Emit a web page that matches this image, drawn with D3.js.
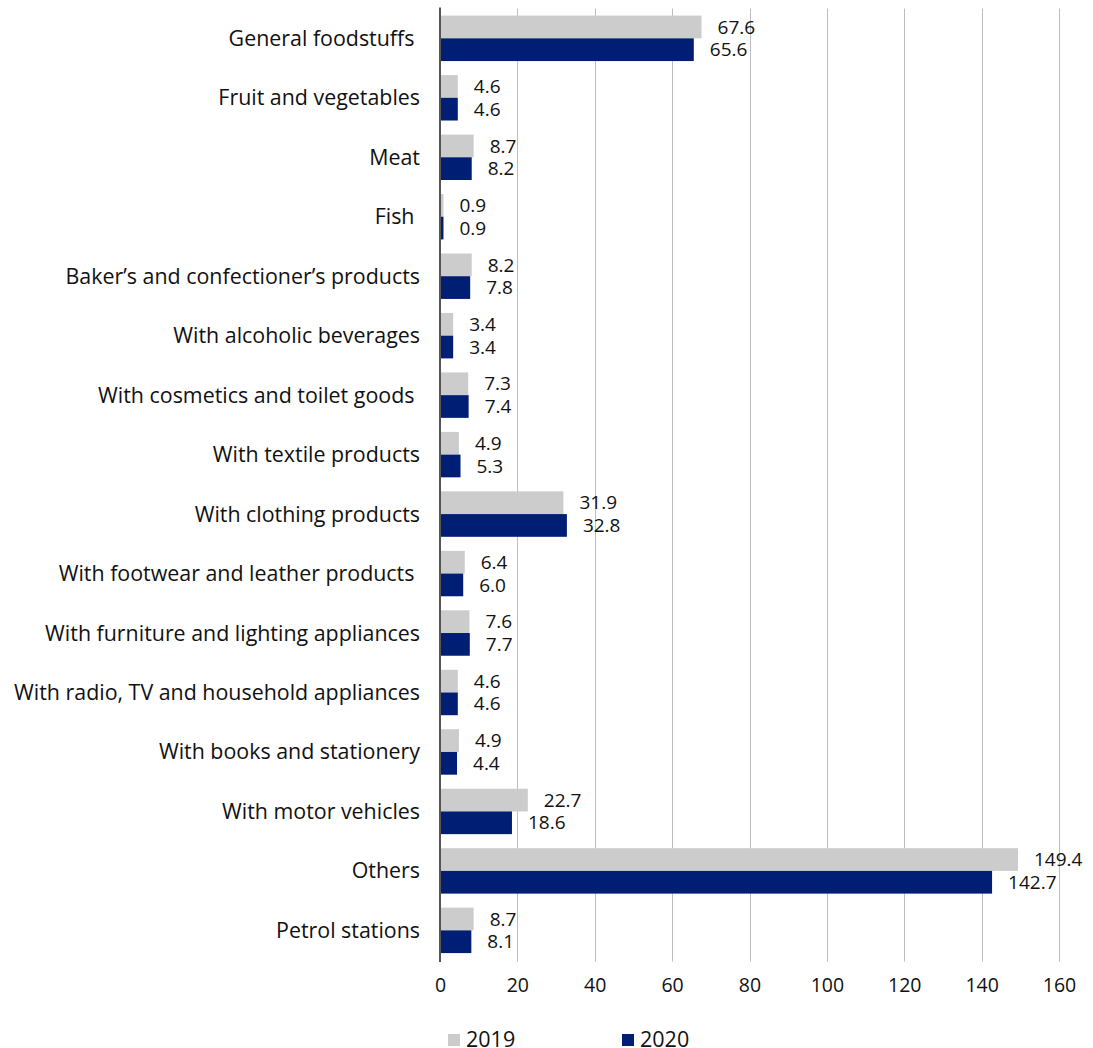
<!DOCTYPE html>
<html>
<head>
<meta charset="utf-8">
<script src="https://d3js.org/d3.v7.min.js"></script>
<style>
  body { margin: 0; background: #fff; }
  svg text { font-family: "Open Sans", sans-serif; fill: #111; white-space: pre; }
</style>
</head>
<body>
<svg id="chart" width="1093" height="1048"></svg>
<script>
// categories, top to bottom (trailing spaces kept as in the source)
var categories = [
    "General foodstuffs ",
    "Fruit and vegetables",
    "Meat",
    "Fish ",
    "Baker\u2019s and confectioner\u2019s products",
    "With alcoholic beverages",
    "With cosmetics and toilet goods ",
    "With textile products",
    "With clothing products",
    "With footwear and leather products ",
    "With furniture and lighting appliances",
    "With radio, TV and household appliances",
    "With books and stationery",
    "With motor vehicles",
    "Others",
    "Petrol stations"
];
var values2019 = [67.6, 4.6, 8.7, 0.9, 8.2, 3.4, 7.3, 4.9, 31.9, 6.4, 7.6, 4.6, 4.9, 22.7, 149.4, 8.7];
var values2020 = [65.6, 4.6, 8.2, 0.9, 7.8, 3.4, 7.4, 5.3, 32.8, 6.0, 7.7, 4.6, 4.4, 18.6, 142.7, 8.1];
var seriesNames = ["2019", "2020"];
var xTicks = [0, 20, 40, 60, 80, 100, 120, 140, 160];

var colors = { "2019": "#cccccc", "2020": "#001e73" };

var svg = d3.select("#chart");

var plotLeft = 440, plotRight = 1059,
    plotTop = 8.6, plotBottom = 960.1;

var x = d3.scaleLinear()
            .domain([0, 160])
            .range([plotLeft, plotRight]);

var y = d3.scaleBand()
            .domain(categories)
            .range([plotTop, plotBottom])
            .paddingInner(0.236)
            .paddingOuter(0.118);

var ySub = d3.scaleBand()
            .domain(seriesNames)
            .range([0, y.bandwidth()]);

// gridlines
svg.append("g")
    .selectAll("line")
    .data(xTicks.slice(1))
    .join("line")
        .attr("x1", d => Math.round(x(d)) + 0.5)
        .attr("x2", d => Math.round(x(d)) + 0.5)
        .attr("y1", plotTop)
        .attr("y2", plotBottom + 1.5)
        .style("stroke", "#bdbdbd")
        .style("stroke-width", 1);

// x axis (labels only)
var xAxis = svg.append("g")
    .attr("transform", "translate(0," + (plotBottom + 1) + ")")
    .call(d3.axisBottom(x).tickValues(xTicks).tickSize(0).tickPadding(17));
xAxis.select(".domain").remove();
xAxis.selectAll("text")
    .style("font-family", "\"Open Sans\", sans-serif")
    .style("font-size", "19.5px")
    .style("fill", "#111");

// bars
var rows = categories.map((c, i) => ({ cat: c, values: [
    { key: "2019", v: values2019[i] },
    { key: "2020", v: values2020[i] }
]}));

var group = svg.append("g")
    .selectAll("g")
    .data(rows)
    .join("g")
        .attr("transform", d => "translate(0," + y(d.cat) + ")");

group.selectAll("rect")
    .data(d => d.values)
    .join("rect")
        .attr("x", x(0))
        .attr("y", d => ySub(d.key))
        .attr("width", d => x(d.v) - x(0))
        .attr("height", ySub.bandwidth())
        .style("fill", d => colors[d.key]);

group.selectAll("text.value")
    .data(d => d.values)
    .join("text")
        .attr("class", "value")
        .attr("x", d => x(d.v) + 16)
        .attr("y", d => ySub(d.key) + ySub.bandwidth() / 2)
        .attr("dy", "0.35em")
        .style("font-size", "19px")
        .text(d => d3.format(".1f")(d.v));

// category labels
svg.append("g")
    .selectAll("text")
    .data(categories)
    .join("text")
        .attr("x", 420)
        .attr("y", d => y(d) + y.bandwidth() / 2)
        .attr("dy", "0.35em")
        .attr("text-anchor", "end")
        .style("font-size", "21.4px")
        .text(d => d);

// vertical axis line
svg.append("line")
    .attr("x1", x(0))
    .attr("x2", x(0))
    .attr("y1", plotTop - 1)
    .attr("y2", plotBottom + 2)
    .style("stroke", "#555")
    .style("stroke-width", 2);

// legend
var legend = svg.append("g")
    .selectAll("g")
    .data(seriesNames)
    .join("g")
        .attr("transform", (d, i) => "translate(" + (448 + i * 174) + ",1034)");

legend.append("rect")
    .attr("width", 12)
    .attr("height", 12)
    .style("fill", d => colors[d]);

legend.append("text")
    .attr("x", 18)
    .attr("y", 5.5)
    .attr("dy", "0.35em")
    .style("font-size", "21.5px")
    .text(d => d);
</script>
</body>
</html>
